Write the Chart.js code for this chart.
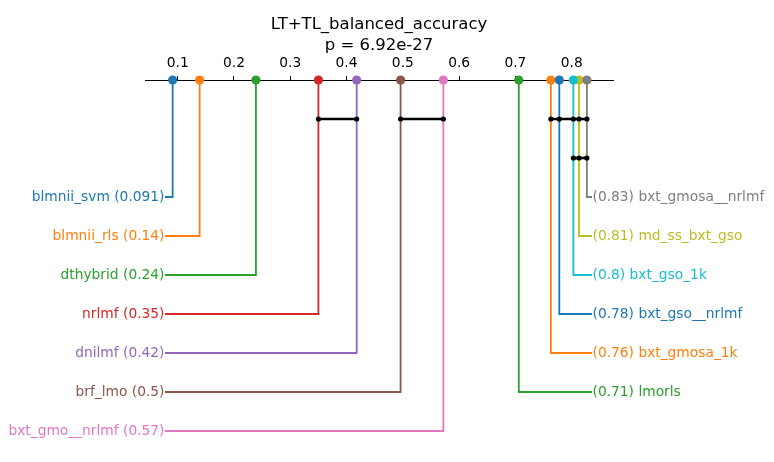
<!DOCTYPE html>
<html>
<head>
<meta charset="utf-8">
<script src="https://cdn.jsdelivr.net/npm/chart.js@4.4.0/dist/chart.umd.min.js"></script>
<style>
  html, body { margin: 0; padding: 0; background: #fff; }
  #wrap { width: 774px; height: 462px; }
</style>
</head>
<body>
<div id="wrap"><canvas id="c" width="774" height="462"></canvas></div>
<script>
// ---- data ----
const leftNames  = ['blmnii_svm', 'blmnii_rls', 'dthybrid', 'nrlmf', 'dnilmf', 'brf_lmo', 'bxt_gmo__nrlmf'];
const leftValues = [0.091, 0.139, 0.239, 0.350, 0.418, 0.496, 0.572];
const leftColors = ['#1f77b4', '#ff7f0e', '#2ca02c', '#d62728', '#9467bd', '#8c564b', '#e377c2'];

const rightNames  = ['bxt_gmosa__nrlmf', 'md_ss_bxt_gso', 'bxt_gso_1k', 'bxt_gso__nrlmf', 'bxt_gmosa_1k', 'lmorls'];
const rightValues = [0.827, 0.813, 0.803, 0.778, 0.763, 0.706];
const rightColors = ['#7f7f7f', '#bcbd22', '#17becf', '#1f77b4', '#ff7f0e', '#2ca02c'];

// cliques (groups not significantly different), as value lists
const cliqueA = [0.350, 0.418];
const cliqueB = [0.496, 0.572];
const cliqueC = [0.763, 0.778, 0.803, 0.813, 0.827];
const cliqueD = [0.803, 0.813, 0.827];
const cliqueRows = [1, 1, 1, 2];

const tickValues = [0.1, 0.2, 0.3, 0.4, 0.5, 0.6, 0.7, 0.8];
const titleLines = ['LT+TL_balanced_accuracy', 'p = 6.92e-27'];

// ---- layout constants ----
const X_MIN = 0.0419, X_MAX = 0.8734;
const LEFT_END = 0.0774, RIGHT_END = 0.8361;
const FIRST_ROW = 3;
const FONT = 'DejaVu Sans';
const TEXT_SIZE = 13.8;

function fmt(v) { return String(Number(v.toPrecision(2))); }

const datasets = [];
const cliques = [cliqueA, cliqueB, cliqueC, cliqueD];
cliques.forEach((cl, i) => {
  datasets.push({
    data: cl.map(v => ({ x: v, y: cliqueRows[i] })),
    borderColor: '#000', backgroundColor: '#000',
    borderWidth: 2.6, pointRadius: 2.6, pointBorderWidth: 0,
    pointBackgroundColor: '#000', clip: false, tension: 0
  });
});

function addMethod(v, row, color, edge) {
  datasets.push({
    data: [{ x: v, y: 0 }, { x: v, y: row }, { x: edge, y: row }],
    borderColor: color, backgroundColor: color,
    borderWidth: 1.8, pointRadius: [4.6, 0, 0], pointBorderWidth: 0,
    pointBackgroundColor: color, clip: false, tension: 0
  });
}
// dataset 0 is drawn on top; push so that right-most cluster overlaps like the reference
const rightOrder = [0, 2, 3, 4, 5, 1];
rightOrder.forEach(i => addMethod(rightValues[i], FIRST_ROW + i, rightColors[i], RIGHT_END));
leftNames.forEach((n, i) => addMethod(leftValues[i], FIRST_ROW + i, leftColors[i], LEFT_END));

const labelPlugin = {
  id: 'cdLabels',
  afterDatasetsDraw(chart) {
    const { ctx, scales: { x, y } } = chart;
    ctx.save();
    ctx.font = TEXT_SIZE + 'px "' + FONT + '"';
    ctx.textBaseline = 'middle';
    ctx.textAlign = 'right';
    leftNames.forEach((n, i) => {
      ctx.fillStyle = leftColors[i];
      ctx.fillText(n + ' (' + fmt(leftValues[i]) + ')', x.getPixelForValue(LEFT_END) - 0.5, y.getPixelForValue(FIRST_ROW + i) + 0.5);
    });
    ctx.textAlign = 'left';
    rightNames.forEach((n, i) => {
      ctx.fillStyle = rightColors[i];
      ctx.fillText('(' + fmt(rightValues[i]) + ') ' + n, x.getPixelForValue(RIGHT_END) + 0.5, y.getPixelForValue(FIRST_ROW + i) + 0.5);
    });
    ctx.restore();
  }
};

new Chart(document.getElementById('c'), {
  type: 'line',
  data: { datasets },
  plugins: [labelPlugin],
  options: {
    responsive: false,
    animation: false,
    events: [],
    layout: { padding: { left: 145, right: 161, top: 0, bottom: 31 } },
    plugins: {
      legend: { display: false },
      tooltip: { enabled: false },
      title: {
        display: true, text: titleLines, color: '#000',
        font: { family: FONT, size: 16.5, weight: 'normal', lineHeight: 1.25 },
        padding: { top: 14.5, bottom: 0 }
      }
    },
    scales: {
      x: {
        type: 'linear', position: 'top', min: X_MIN, max: X_MAX,
        afterBuildTicks: s => { s.ticks = tickValues.map(v => ({ value: v })); },
        afterFit: s => { s.height = 80 - 14.5 - 16.5 * 1.25 * 2; },
        ticks: {
          color: '#000', font: { family: FONT, size: TEXT_SIZE }, padding: 4,
          maxRotation: 0, autoSkip: false,
          callback: v => v.toFixed(1)
        },
        grid: { drawOnChartArea: false, drawTicks: true, tickLength: 4, color: '#000', lineWidth: 1 },
        border: { display: true, color: '#000', width: 1 }
      },
      y: { type: 'linear', display: false, min: 0, max: 9, reverse: true }
    }
  }
});
</script>
</body>
</html>
